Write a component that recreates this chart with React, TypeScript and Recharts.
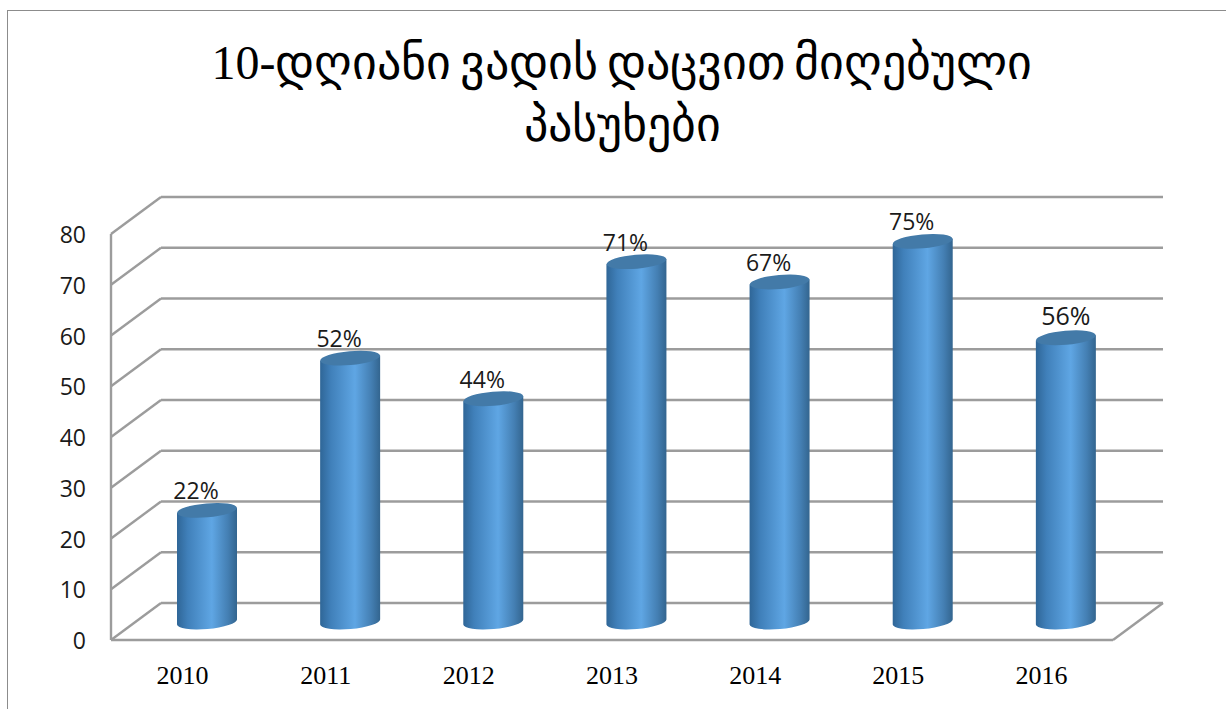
import { Bar, BarChart, CartesianGrid, LabelList, XAxis, YAxis } from "recharts";

const years = ["2010", "2011", "2012", "2013", "2014", "2015", "2016"];
const answers = [22, 52, 44, 71, 67, 75, 56];
const yTicks = [0, 10, 20, 30, 40, 50, 60, 70, 80];
const titleLines = ["10-დღიანი ვადის დაცვით მიღებული", "პასუხები"];

const chartData = years.map((year, i) => ({ year, value: answers[i] }));

const DEPTH_X = 50;
const DEPTH_Y = 37;
const BAR_SHIFT_X = 24;
const BAR_SHIFT_Y = 18;
const TILT = 5;
const GRID = "#9c9c9c";
const SERIF = "'Liberation Serif', serif";
const SANS = "'Open Sans', sans-serif";

function GridRow({ x1, x2, y1 }: any) {
  // the lowest row also closes the floor on the right side
  const isFloor = y1 > 630;
  return (
    <g stroke={GRID} strokeWidth={2.4} fill="none">
      <line x1={x1} y1={y1} x2={x1 + DEPTH_X} y2={y1 - DEPTH_Y} />
      <line x1={x1 + DEPTH_X} y1={y1 - DEPTH_Y} x2={x2 + DEPTH_X} y2={y1 - DEPTH_Y} />
      {isFloor && <line x1={x2} y1={y1} x2={x2 + DEPTH_X} y2={y1 - DEPTH_Y} />}
    </g>
  );
}

function Cylinder({ x, y, width, height }: any) {
  const left = x + BAR_SHIFT_X;
  const top = y - BAR_SHIFT_Y;
  const bottom = top + height;
  const rx = width / 2;
  const ry = 7;
  const dy = 2.6;
  const body = `M${left},${top + dy} L${left},${bottom + dy} A${rx},${ry} ${-TILT} 0 0 ${left + width},${bottom - dy} L${left + width},${top - dy} Z`;
  return (
    <g>
      <path d={body} fill="url(#cylinderSide)" />
      <ellipse
        cx={left + rx}
        cy={top}
        rx={rx}
        ry={ry}
        fill="#437aa8"
        transform={`rotate(${-TILT} ${left + rx} ${top})`}
      />
    </g>
  );
}

function PercentLabel({ x, y, width, value, index }: any) {
  // the last label sits centred and a little bigger in the original
  const isLast = index === answers.length - 1;
  return (
    <text
      x={x + width / 2 + BAR_SHIFT_X - (isLast ? 0 : 11)}
      y={y - BAR_SHIFT_Y - (isLast ? 13 : 11)}
      textAnchor="middle"
      fontSize={isLast ? 25 : 23}
      fontFamily={SANS}
      fill="#1a1a1a"
    >
      {value}%
    </text>
  );
}

export default function App() {
  return (
    <div style={{ position: "absolute", left: 0, top: 0, width: 1226, height: 709, background: "#fff", overflow: "hidden" }}>
      <div
        style={{
          position: "absolute",
          left: 7,
          top: 10,
          width: 1240,
          height: 720,
          border: "1px solid #8c8c8c",
        }}
      />
      <div
        style={{
          position: "absolute",
          left: 0,
          top: 32,
          width: 1244,
          textAlign: "center",
          fontFamily: SERIF,
          fontSize: 48,
          lineHeight: "62px",
          wordSpacing: -3,
          color: "#000",
        }}
      >
        {titleLines.map((t) => (
          <div key={t}>{t}</div>
        ))}
      </div>
      <BarChart
        width={1226}
        height={709}
        data={chartData}
        margin={{ top: 234, right: 113, bottom: 0, left: 0 }}
        barSize={60}
        style={{ position: "absolute", left: 0, top: 0 }}
      >
        <defs>
          <linearGradient id="cylinderSide" x1="0" y1="0" x2="1" y2="0">
            <stop offset="0%" stopColor="#2f6697" />
            <stop offset="18%" stopColor="#4080ba" />
            <stop offset="58%" stopColor="#5fa6e4" />
            <stop offset="85%" stopColor="#447fb3" />
            <stop offset="100%" stopColor="#33658f" />
          </linearGradient>
        </defs>
        <CartesianGrid vertical={false} horizontal={(p: any) => <GridRow key={p.key} {...p} />} />
        <XAxis
          dataKey="year"
          height={69}
          axisLine={{ stroke: GRID, strokeWidth: 2.4 }}
          tickLine={false}
          tick={{ fill: "#000", fontSize: 26, fontFamily: SERIF }}
          tickMargin={20}
        />
        <YAxis
          width={111}
          domain={[0, 80]}
          ticks={yTicks}
          axisLine={{ stroke: GRID, strokeWidth: 2.4 }}
          tickLine={false}
          tick={{ fill: "#1a1a1a", fontSize: 23, fontFamily: SANS, dy: 1 }}
          tickMargin={19}
        />
        <Bar dataKey="value" shape={<Cylinder />} isAnimationActive={false}>
          <LabelList dataKey="value" content={<PercentLabel />} />
        </Bar>
      </BarChart>
    </div>
  );
}
